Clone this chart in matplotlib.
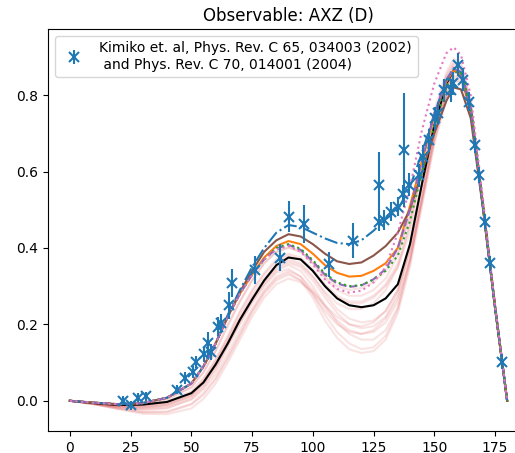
import matplotlib
matplotlib.use("Agg")
import matplotlib.pyplot as plt

# measured data (angle in deg, AXZ, error)
exp_angle = [22, 25, 28, 31.5, 44, 47.5, 50.5, 52, 55.3, 57, 58, 60.8, 62.2, 65.6, 66.7,
             76.3, 86.5, 90, 96.5, 106.8, 116.7, 127.2, 127.2, 129.5, 132, 135, 137, 137.7,
             139.8, 143.6, 145.3, 147.8, 150.1, 151.5, 154.2, 157, 157.6, 159.7, 161.8,
             164.2, 166.6, 168.4, 171, 172.8, 177.8]
exp_value = [0.0, -0.012, 0.008, 0.012, 0.029, 0.06, 0.075, 0.101, 0.122, 0.15, 0.128, 0.194,
             0.203, 0.25, 0.309, 0.342, 0.375, 0.482, 0.462, 0.357, 0.419, 0.565, 0.469, 0.473,
             0.495, 0.508, 0.54, 0.656, 0.565, 0.59, 0.639, 0.682, 0.739, 0.752, 0.813, 0.813,
             0.831, 0.879, 0.84, 0.783, 0.669, 0.591, 0.469, 0.36, 0.102]
exp_error = [0.012, 0.012, 0.012, 0.012, 0.012, 0.015, 0.015, 0.015, 0.02, 0.03, 0.02, 0.025,
             0.025, 0.035, 0.037, 0.037, 0.035, 0.04, 0.05, 0.033, 0.046, 0.085, 0.025, 0.025,
             0.025, 0.025, 0.025, 0.15, 0.03, 0.03, 0.03, 0.03, 0.03, 0.03, 0.03, 0.03, 0.03,
             0.03, 0.03, 0.025, 0.02, 0.02, 0.02, 0.02, 0.02]

# theory curves, sampled on this angle grid
angle = [0, 10, 20, 30, 40, 50, 55, 60, 65, 70, 75, 80, 85, 90, 95, 100, 105, 110, 115,
         120, 125, 130, 135, 140, 145, 150, 155, 158, 161, 165, 170, 175, 180]

band = [
    [0, -0.005, -0.01, -0.008, 0.004, 0.035, 0.075, 0.13, 0.195, 0.26, 0.315, 0.36, 0.39, 0.40, 0.39, 0.36, 0.325, 0.30, 0.29, 0.295, 0.31, 0.34, 0.39, 0.48, 0.60, 0.72, 0.82, 0.86, 0.86, 0.77, 0.515, 0.25, 0.0],
    [0, -0.006, -0.012, -0.012, -0.002, 0.025, 0.06, 0.11, 0.17, 0.235, 0.29, 0.335, 0.37, 0.385, 0.375, 0.345, 0.305, 0.275, 0.26, 0.26, 0.275, 0.305, 0.36, 0.46, 0.60, 0.73, 0.83, 0.87, 0.865, 0.77, 0.515, 0.25, 0.0],
    [0, -0.008, -0.018, -0.025, -0.02, 0.005, 0.035, 0.08, 0.14, 0.2, 0.255, 0.30, 0.335, 0.345, 0.325, 0.28, 0.225, 0.18, 0.15, 0.135, 0.14, 0.17, 0.24, 0.37, 0.54, 0.70, 0.82, 0.86, 0.86, 0.77, 0.52, 0.25, 0.0],
    [0, -0.008, -0.016, -0.02, -0.014, 0.01, 0.04, 0.085, 0.145, 0.205, 0.26, 0.305, 0.34, 0.355, 0.34, 0.30, 0.25, 0.21, 0.185, 0.175, 0.18, 0.205, 0.26, 0.37, 0.53, 0.69, 0.81, 0.85, 0.85, 0.765, 0.515, 0.25, 0.0],
    [0, -0.007, -0.014, -0.017, -0.01, 0.015, 0.05, 0.10, 0.16, 0.22, 0.275, 0.32, 0.355, 0.37, 0.36, 0.325, 0.28, 0.24, 0.215, 0.205, 0.21, 0.235, 0.29, 0.40, 0.56, 0.71, 0.82, 0.86, 0.855, 0.765, 0.515, 0.25, 0.0],
    [0, -0.009, -0.02, -0.03, -0.03, -0.01, 0.015, 0.055, 0.11, 0.17, 0.23, 0.28, 0.315, 0.33, 0.315, 0.28, 0.235, 0.20, 0.18, 0.175, 0.185, 0.215, 0.27, 0.37, 0.52, 0.68, 0.80, 0.845, 0.85, 0.765, 0.515, 0.25, 0.0],
    [0, -0.009, -0.022, -0.034, -0.035, -0.02, 0.005, 0.045, 0.10, 0.16, 0.22, 0.27, 0.305, 0.32, 0.31, 0.285, 0.25, 0.22, 0.20, 0.195, 0.205, 0.235, 0.29, 0.39, 0.53, 0.68, 0.80, 0.84, 0.845, 0.76, 0.51, 0.245, 0.0],
    [0, -0.006, -0.012, -0.013, -0.006, 0.02, 0.055, 0.105, 0.165, 0.23, 0.285, 0.33, 0.365, 0.38, 0.37, 0.34, 0.30, 0.27, 0.255, 0.255, 0.27, 0.30, 0.35, 0.44, 0.57, 0.70, 0.80, 0.835, 0.835, 0.755, 0.51, 0.245, 0.0],
    [0, -0.005, -0.01, -0.008, 0.004, 0.035, 0.075, 0.13, 0.20, 0.26, 0.315, 0.36, 0.39, 0.402, 0.39, 0.36, 0.32, 0.29, 0.275, 0.275, 0.29, 0.32, 0.38, 0.49, 0.63, 0.76, 0.86, 0.895, 0.885, 0.785, 0.52, 0.25, 0.0],
    [0, -0.007, -0.015, -0.018, -0.012, 0.012, 0.045, 0.09, 0.15, 0.21, 0.265, 0.31, 0.345, 0.36, 0.35, 0.315, 0.27, 0.23, 0.2, 0.19, 0.195, 0.22, 0.28, 0.40, 0.57, 0.73, 0.85, 0.885, 0.875, 0.78, 0.52, 0.25, 0.0],
    [0, -0.008, -0.017, -0.022, -0.018, 0.003, 0.03, 0.07, 0.125, 0.185, 0.24, 0.29, 0.325, 0.34, 0.325, 0.29, 0.245, 0.205, 0.175, 0.16, 0.16, 0.185, 0.245, 0.36, 0.53, 0.70, 0.83, 0.875, 0.87, 0.775, 0.52, 0.25, 0.0],
    [0, -0.006, -0.013, -0.015, -0.008, 0.017, 0.05, 0.095, 0.155, 0.215, 0.27, 0.315, 0.35, 0.365, 0.355, 0.325, 0.285, 0.255, 0.24, 0.24, 0.255, 0.29, 0.35, 0.46, 0.61, 0.75, 0.85, 0.88, 0.87, 0.775, 0.515, 0.25, 0.0],
    [0, -0.009, -0.021, -0.03, -0.028, -0.008, 0.02, 0.06, 0.115, 0.175, 0.235, 0.285, 0.32, 0.335, 0.315, 0.27, 0.21, 0.165, 0.135, 0.125, 0.13, 0.16, 0.23, 0.35, 0.51, 0.67, 0.79, 0.835, 0.84, 0.76, 0.515, 0.25, 0.0],
]

black = [0.0, -0.006, -0.011, -0.01, -0.003, 0.02, 0.048, 0.095, 0.15, 0.212, 0.265, 0.315, 0.355, 0.375, 0.37, 0.34, 0.30, 0.268, 0.25, 0.245, 0.25, 0.268, 0.305, 0.41, 0.57, 0.72, 0.83, 0.865, 0.855, 0.76, 0.51, 0.245, 0.0]
orange = [0.0, -0.005, -0.009, -0.006, 0.008, 0.045, 0.09, 0.15, 0.22, 0.28, 0.33, 0.375, 0.405, 0.418, 0.41, 0.385, 0.355, 0.335, 0.325, 0.327, 0.34, 0.36, 0.40, 0.51, 0.63, 0.745, 0.835, 0.865, 0.855, 0.76, 0.51, 0.245, 0.0]
brown = [0.0, -0.005, -0.009, -0.006, 0.008, 0.045, 0.09, 0.15, 0.22, 0.285, 0.34, 0.39, 0.42, 0.436, 0.43, 0.41, 0.385, 0.365, 0.358, 0.362, 0.38, 0.405, 0.44, 0.50, 0.60, 0.70, 0.785, 0.82, 0.815, 0.74, 0.505, 0.245, 0.0]
blue_dd = [0.0, -0.005, -0.009, -0.006, 0.008, 0.045, 0.09, 0.15, 0.225, 0.29, 0.35, 0.40, 0.44, 0.46, 0.455, 0.44, 0.425, 0.413, 0.41, 0.42, 0.445, 0.475, 0.50, 0.56, 0.65, 0.75, 0.84, 0.87, 0.86, 0.765, 0.51, 0.245, 0.0]
purple = [0.0, -0.005, -0.009, -0.006, 0.008, 0.045, 0.09, 0.15, 0.22, 0.28, 0.33, 0.37, 0.398, 0.408, 0.395, 0.365, 0.33, 0.307, 0.298, 0.302, 0.318, 0.345, 0.40, 0.50, 0.63, 0.75, 0.84, 0.87, 0.86, 0.765, 0.51, 0.245, 0.0]
green = [0.0, -0.005, -0.009, -0.006, 0.008, 0.045, 0.09, 0.15, 0.22, 0.28, 0.33, 0.37, 0.40, 0.41, 0.398, 0.368, 0.333, 0.31, 0.30, 0.303, 0.317, 0.34, 0.38, 0.47, 0.60, 0.72, 0.82, 0.86, 0.86, 0.77, 0.515, 0.245, 0.0]
pink_dot = [0.0, -0.005, -0.009, -0.006, 0.008, 0.045, 0.09, 0.15, 0.22, 0.28, 0.33, 0.37, 0.396, 0.405, 0.39, 0.357, 0.318, 0.293, 0.283, 0.288, 0.31, 0.35, 0.44, 0.56, 0.71, 0.83, 0.91, 0.925, 0.905, 0.80, 0.53, 0.25, 0.0]

fig = plt.figure(figsize=(5.15, 4.53), dpi=100)
ax = fig.add_axes([0.0932, 0.0486, 0.934, 0.8874])

for curve in band:
    ax.plot(angle, curve, color="tab:red", alpha=0.13, lw=1.5)

ax.plot(angle, black, color="black", lw=1.5)
ax.plot(angle, orange, color="tab:orange", lw=1.5)
ax.plot(angle, brown, color="tab:brown", lw=1.5)
ax.plot(angle, blue_dd, color="tab:blue", ls="-.", lw=1.5)
ax.plot(angle, purple, color="tab:purple", ls="--", lw=1.5)
ax.plot(angle, green, color="tab:green", ls=":", lw=1.5)
ax.plot(angle, pink_dot, color="tab:pink", ls=":", lw=1.5)

ax.errorbar(exp_angle, exp_value, yerr=exp_error, fmt="x", color="tab:blue",
            markersize=7, mew=1.5, elinewidth=1.5,
            label="Kimiko et. al, Phys. Rev. C 65, 034003 (2002)\n and Phys. Rev. C 70, 014001 (2004)")

ax.set_xlim(-9, 189)
ax.set_ylim(-0.079, 0.973)
ax.set_xticks([0, 25, 50, 75, 100, 125, 150, 175])
ax.set_yticks([0.0, 0.2, 0.4, 0.6, 0.8])
ax.set_title("Observable: AXZ (D)")
ax.legend(loc="upper left")

fig.savefig("out.png", dpi=100)
